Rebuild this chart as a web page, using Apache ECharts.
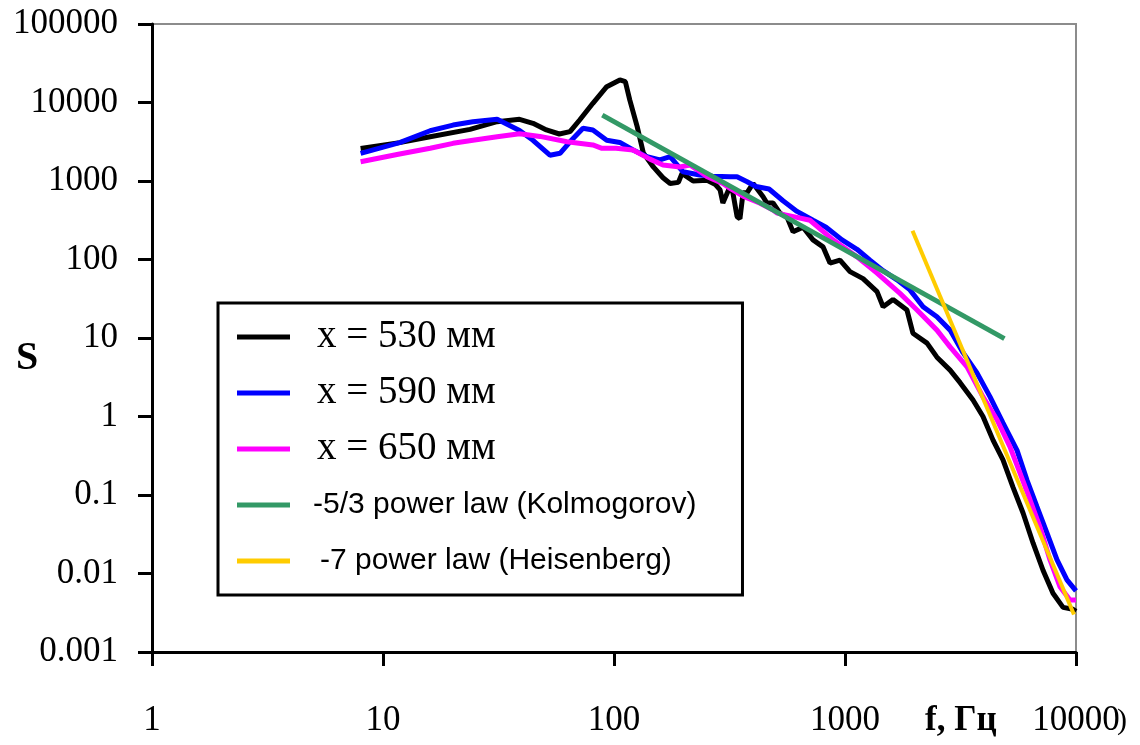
<!DOCTYPE html>
<html>
<head>
<meta charset="utf-8">
<script src="https://cdn.jsdelivr.net/npm/echarts@6.0.0/dist/echarts.min.js"></script>
<style>
  html, body { margin: 0; padding: 0; background: #fff; }
  #chart { width: 1140px; height: 745px; }
</style>
</head>
<body>
<div id="chart"></div>
<script>
// spectra S(f)
var legendNames = ['x = 530 мм', 'x = 590 мм', 'x = 650 мм', '-5/3 power law (Kolmogorov)', '-7 power law (Heisenberg)'];

var s530 = [[8,2600],[11.8,3080],[16,3660],[23.8,4550],[31.2,5700],[39,6100],[44.6,5430],[51,4470],[58,3970],[64.5,4250],[71,5980],[81,9770],[93,15900],[106,19400],[112,18400],[117,10800],[126,4930],[134,2270],[148,1510],[163,1100],[175,930],[190,960],[197,1250],[220,1000],[253,1020],[275,900],[288,770],[296,525],[318,850],[327,710],[341,351],[351,330],[362,710],[377,710],[400,930],[442,630],[459,525],[488,525],[523,390],[561,347],[596,225],[658,258],[727,178],[803,145],[861,90],[951,98],[1051,70],[1197,57],[1376,39],[1462,25],[1614,31],[1855,22.7],[1968,11.5],[2265,8.6],[2500,5.7],[2850,3.9],[3150,2.7],[3582,1.62],[3957,1.0],[4373,0.5],[4830,0.28],[5335,0.126],[5900,0.059],[6516,0.0245],[7198,0.011],[7950,0.0056],[8790,0.0037],[9700,0.0035],[10000,0.0033]];

var s590 = [[8,2250],[11.8,3080],[16,4370],[20.1,5160],[24.5,5690],[31.2,6100],[39,4400],[44.6,3300],[52.8,2130],[58.4,2255],[64.5,3160],[73.4,4700],[81,4470],[93,3300],[106,3100],[121,2480],[139,2040],[158,1855],[175,2040],[199,1310],[235,1190],[267,1150],[318,1135],[341,1135],[377,980],[412,850],[469,790],[539,560],[620,410],[727,316],[828,258],[971,178],[1127,135],[1283,98],[1462,72],[1679,55],[1910,41],[2177,25],[2500,18.6],[2850,12.6],[3243,6.5],[3727,3.6],[4246,1.78],[4830,0.83],[5557,0.37],[6135,0.155],[6776,0.071],[7485,0.033],[8270,0.015],[9137,0.0083],[10000,0.006]];

var s650 = [[8,1760],[11.8,2210],[16,2610],[20.1,3020],[24.5,3300],[31.2,3660],[39,4000],[47.8,3700],[62.6,3160],[81,2880],[88.7,2610],[102,2610],[121,2480],[143,1900],[163,1600],[193,1510],[213,1600],[242,1250],[253,1135],[296,930],[318,807],[362,640],[429,520],[488,427],[508,390],[578,360],[705,316],[888,178],[1127,108],[1376,67],[1730,37],[2050,22.7],[2500,12.6],[2850,7.7],[3375,4.3],[3957,1.78],[4550,0.91],[5180,0.41],[5723,0.19],[6321,0.087],[6982,0.039],[7712,0.015],[8520,0.0068],[9420,0.0046],[10000,0.0046]];

var kolmogorov = [[89,6900],[4900,9.8]];
var heisenberg = [[1960,233],[9800,0.003]];

var chart = echarts.init(document.getElementById('chart'));

function num(v) { return String(+Number(v).toPrecision(3)); }

var serif = 'Liberation Serif';

var option = {
  backgroundColor: '#fff',
  animation: false,
  grid: { left: 152, top: 24, right: 64, bottom: 93, show: true, borderColor: '#8c8c8c', borderWidth: 2 },
  xAxis: {
    type: 'log', logBase: 10, min: 1, max: 10000, interval: 1,
    axisLine: { show: true, lineStyle: { color: '#000', width: 3 } },
    axisTick: { show: true, inside: false, length: 14, lineStyle: { color: '#000', width: 3 } },
    axisLabel: { margin: 51, color: '#000', fontFamily: serif, fontSize: 35, formatter: num },
    splitLine: { show: false }
  },
  yAxis: {
    type: 'log', logBase: 10, min: 0.001, max: 100000, interval: 1,
    axisLine: { show: true, lineStyle: { color: '#000', width: 3 } },
    axisTick: { show: true, inside: false, length: 14, lineStyle: { color: '#000', width: 3 } },
    axisLabel: { margin: 34, color: '#000', fontFamily: serif, fontSize: 35, formatter: num },
    splitLine: { show: false }
  },
  legend: {
    orient: 'vertical', left: 218, top: 303,
    padding: [6, 46, 6, 19], itemGap: 0, itemWidth: 53, itemHeight: 5,
    icon: 'rect', selectedMode: false,
    borderColor: '#000', borderWidth: 3, backgroundColor: '#fff',
    data: [
      { name: legendNames[0], textStyle: { fontFamily: serif, fontSize: 39, lineHeight: 56, padding: [0, 0, 0, 22], color: '#000' } },
      { name: legendNames[1], textStyle: { fontFamily: serif, fontSize: 39, lineHeight: 56, padding: [0, 0, 0, 22], color: '#000' } },
      { name: legendNames[2], textStyle: { fontFamily: serif, fontSize: 39, lineHeight: 56, padding: [0, 0, 0, 22], color: '#000' } },
      { name: legendNames[3], textStyle: { fontFamily: 'Liberation Sans', fontSize: 30, lineHeight: 56, padding: [0, 0, 0, 18], color: '#000' } },
      { name: legendNames[4], textStyle: { fontFamily: 'Liberation Sans', fontSize: 30, lineHeight: 56, padding: [0, 0, 0, 25], color: '#000' } }
    ]
  },
  graphic: [
    { type: 'text', left: 16, top: 339, style: { text: 'S', font: 'bold 40px "Liberation Serif"', fill: '#000' } },
    { type: 'text', left: 925, top: 703, style: { text: 'f, Гц', font: 'bold 35px "Liberation Serif"', fill: '#000' } },
    { type: 'text', left: 1117, top: 706, style: { text: ')', font: '30px "Liberation Serif"', fill: '#000' } }
  ],
  series: [
    { name: legendNames[0], type: 'line', data: s530, showSymbol: false, color: '#000000', lineStyle: { width: 5, color: '#000000' } },
    { name: legendNames[1], type: 'line', data: s590, showSymbol: false, color: '#0000ff', lineStyle: { width: 5, color: '#0000ff' } },
    { name: legendNames[2], type: 'line', data: s650, showSymbol: false, color: '#ff00ff', lineStyle: { width: 5, color: '#ff00ff' } },
    { name: legendNames[3], type: 'line', data: kolmogorov, showSymbol: false, color: '#339966', lineStyle: { width: 5, color: '#339966' } },
    { name: legendNames[4], type: 'line', data: heisenberg, showSymbol: false, color: '#ffcc00', lineStyle: { width: 4, color: '#ffcc00' } }
  ]
};

chart.setOption(option);
</script>
</body>
</html>
